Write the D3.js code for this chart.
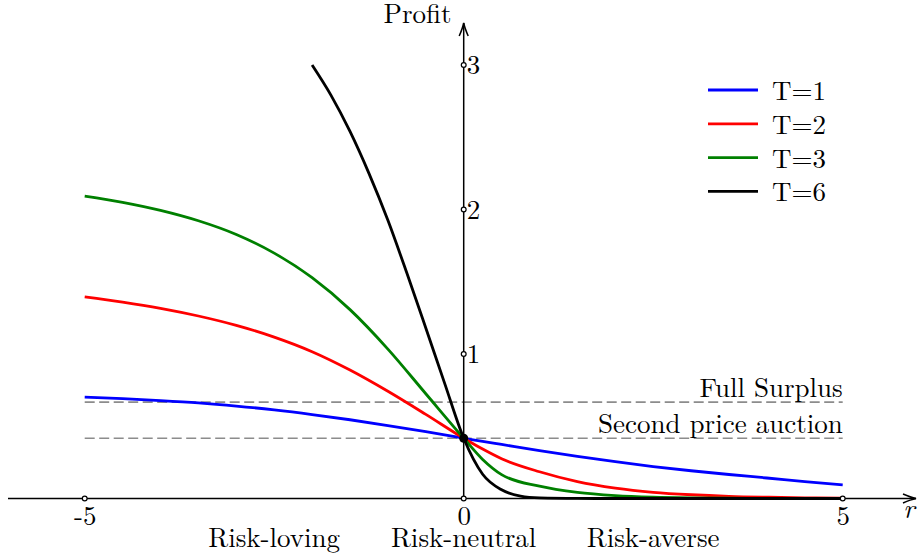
<!DOCTYPE html>
<html>
<head>
<meta charset="utf-8">
<script src="https://cdn.jsdelivr.net/npm/d3@7"></script>
<style>
  html, body { margin: 0; padding: 0; background: #fff; }
  svg { display: block; }
</style>
</head>
<body>
<svg id="chart" width="918" height="558"></svg>
<script>
// ---- data ----
const rGrid = [-5, -4.5, -4, -3.5, -3, -2.5, -2, -1.5, -1, -0.5, 0, 0.25, 0.5, 1, 1.5, 2, 2.5, 3, 3.5, 4, 4.5, 5];
const profitT1 = [0.702, 0.691, 0.678, 0.662, 0.640, 0.613, 0.581, 0.545, 0.505, 0.462, 0.417, 0.395, 0.374, 0.332, 0.292, 0.255, 0.221, 0.192, 0.166, 0.142, 0.117, 0.094];
const profitT2 = [1.395, 1.359, 1.316, 1.263, 1.198, 1.117, 1.016, 0.889, 0.742, 0.582, 0.417, 0.342, 0.275, 0.185, 0.117, 0.072, 0.043, 0.026, 0.015, 0.009, 0.005, 0.003];
const profitT3 = [2.093, 2.050, 1.994, 1.922, 1.827, 1.698, 1.528, 1.307, 1.034, 0.725, 0.417, 0.27, 0.165, 0.085, 0.042, 0.02, 0.009, 0.004, 0.002, 0.001, 0.0005, 0];
const rGridT6 = [-2, -1.75, -1.5, -1.25, -1, -0.75, -0.5, -0.25, 0, 0.25, 0.5, 0.75, 1, 1.5, 2, 3, 4, 5];
const profitT6 = [3.0, 2.79, 2.54, 2.25, 1.925, 1.56, 1.18, 0.795, 0.417, 0.168, 0.06, 0.016, 0.004, 0.0005, 0, 0, 0, 0];

const seriesNames = ["T=1", "T=2", "T=3", "T=6"];
const seriesColors = ["#0000ff", "#ff0000", "#008000", "#000000"];

const fullSurplus = 2 / 3;
const secondPrice = 5 / 12;
const refLabels = ["Full Surplus", "Second price auction"];

const xTicks = [-5, 0, 5];
const yTicks = [1, 2, 3];
const regionLabels = [
  { r: -2.5, text: "Risk-loving" },
  { r: 0, text: "Risk-neutral" },
  { r: 2.5, text: "Risk-averse" }
];

// ---- layout ----
const svg = d3.select("#chart");
const x = d3.scaleLinear().domain([-5, 5]).range([84.7, 842.7]);
const y = d3.scaleLinear().domain([0, 3]).range([498.5, 65]);
const FS = 27;
const FONT = '"Latin Modern Roman", "Liberation Serif", serif';

function txt(sel) {
  return sel.style("font-family", FONT).style("font-size", FS + "px").attr("fill", "#000");
}

const series = [
  rGrid.map((r, i) => [r, profitT1[i]]),
  rGrid.map((r, i) => [r, profitT2[i]]),
  rGrid.map((r, i) => [r, profitT3[i]]),
  rGridT6.map((r, i) => [r, profitT6[i]])
];

// reference dashed lines
[fullSurplus, secondPrice].forEach((v, i) => {
  svg.append("line")
    .attr("x1", x(-5)).attr("x2", x(5))
    .attr("y1", y(v)).attr("y2", y(v))
    .attr("stroke", "#8c8c8c").attr("stroke-width", 1.6)
    .attr("stroke-dasharray", "10,4.5");
  txt(svg.append("text"))
    .attr("x", x(5)).attr("y", y(v) - 5.5)
    .attr("text-anchor", "end")
    .text(refLabels[i]);
});

// axes lines with arrows
const axisG = svg.append("g").attr("stroke", "#000").attr("fill", "none").attr("stroke-width", 1.5);
axisG.append("line").attr("x1", 8).attr("x2", 916).attr("y1", y(0)).attr("y2", y(0));
axisG.append("line").attr("x1", x(0)).attr("x2", x(0)).attr("y1", y(0)).attr("y2", 23);
axisG.append("path")
  .attr("d", `M${916 - 13},${y(0) - 4.5} Q${916 - 5},${y(0) - 1} ${916},${y(0)} Q${916 - 5},${y(0) + 1} ${916 - 13},${y(0) + 4.5}`);
axisG.append("path")
  .attr("d", `M${x(0) - 4.5},${23 + 13} Q${x(0) - 1},${23 + 5} ${x(0)},${23} Q${x(0) + 1},${23 + 5} ${x(0) + 4.5},${23 + 13}`);

// x axis labels via d3 axis
const xAxis = d3.axisBottom(x).tickValues(xTicks).tickSize(0).tickPadding(7.3).tickFormat(d => String(d));
const gx = svg.append("g").attr("transform", `translate(0,${y(0)})`).call(xAxis);
gx.select(".domain").remove();
txt(gx.selectAll("text"));

// y axis labels via d3 axis
const yAxis = d3.axisRight(y).tickValues(yTicks).tickSize(0).tickPadding(3).tickFormat(d => String(d));
const gy = svg.append("g").attr("transform", `translate(${x(0)},0)`).call(yAxis);
gy.select(".domain").remove();
txt(gy.selectAll("text"));

// curves
const line = d3.line().x(d => x(d[0])).y(d => y(d[1])).curve(d3.curveMonotoneX);
series.forEach((s, i) => {
  svg.append("path")
    .datum(s)
    .attr("d", line)
    .attr("fill", "none")
    .attr("stroke", seriesColors[i])
    .attr("stroke-width", 2.8)
    .attr("stroke-linejoin", "round");
});

// tick markers (small open circles)
xTicks.forEach(t => {
  svg.append("circle").attr("cx", x(t)).attr("cy", y(0)).attr("r", 2.4)
    .attr("fill", "#fff").attr("stroke", "#000").attr("stroke-width", 1.2);
});
yTicks.forEach(t => {
  svg.append("circle").attr("cx", x(0)).attr("cy", y(t)).attr("r", 2.4)
    .attr("fill", "#fff").attr("stroke", "#000").attr("stroke-width", 1.2);
});

// common point
svg.append("circle").attr("cx", x(0)).attr("cy", y(secondPrice)).attr("r", 4.5).attr("fill", "#000");

// axis titles
txt(svg.append("text")).attr("x", 417.5).attr("y", 23).attr("text-anchor", "middle").text("Profit");
txt(svg.append("text")).attr("x", 909).attr("y", 518).attr("text-anchor", "middle")
  .style("font-style", "italic").text("r");

// region labels
regionLabels.forEach(d => {
  txt(svg.append("text")).attr("x", x(d.r)).attr("y", 546.5).attr("text-anchor", "middle").text(d.text);
});

// legend
const legend = svg.append("g").attr("transform", "translate(708,90)");
seriesNames.forEach((name, i) => {
  const g = legend.append("g").attr("transform", `translate(0,${i * 33.8})`);
  g.append("line").attr("x1", 0).attr("x2", 50).attr("y1", 0).attr("y2", 0)
    .attr("stroke", seriesColors[i]).attr("stroke-width", 2.8);
  txt(g.append("text")).attr("x", 64).attr("y", 10).text(name);
});
</script>
</body>
</html>
